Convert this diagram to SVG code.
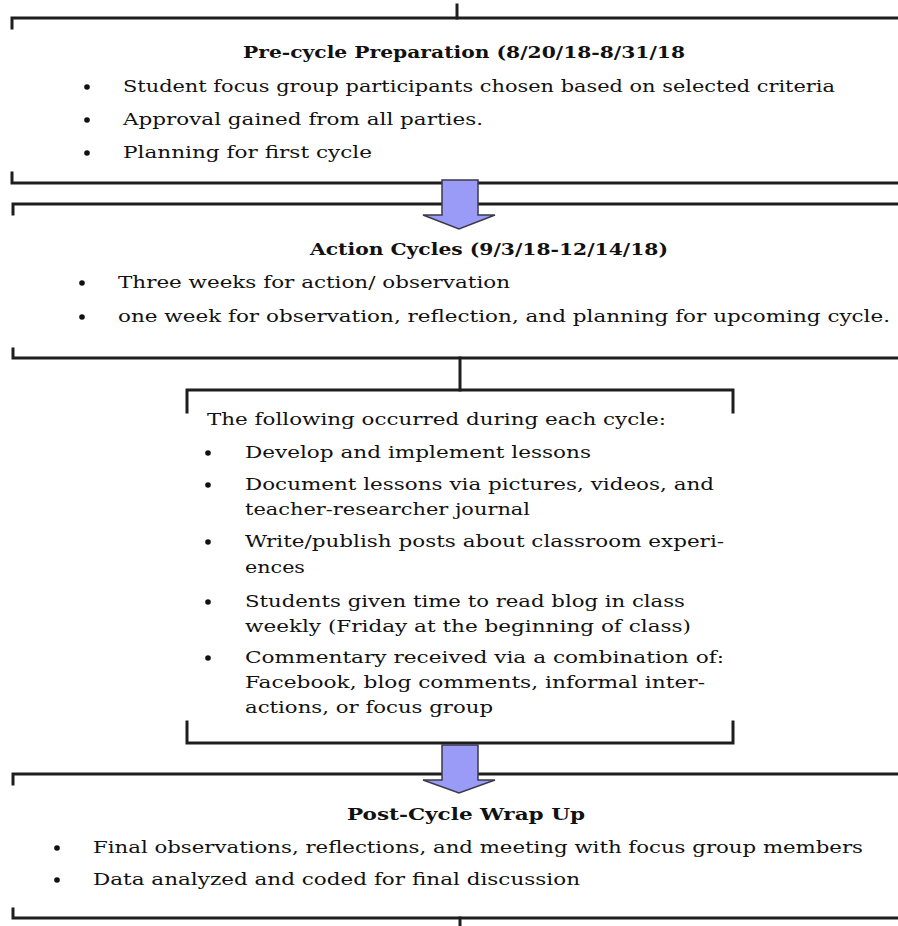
<svg xmlns="http://www.w3.org/2000/svg" width="898" height="926" viewBox="0 0 898 926">
<style>
.ln{fill:none;stroke:#1e1e1e;stroke-width:3;stroke-linecap:square}
.t{font-family:"DejaVu Serif","Liberation Serif",serif;font-size:17px;fill:#111}
.b{font-family:"DejaVu Serif","Liberation Serif",serif;font-size:17px;font-weight:bold;fill:#111}
.dot{fill:#111}
.arr{fill:#9a9af7;stroke:#3a3a4a;stroke-width:1.5}
</style>
<rect width="898" height="926" fill="#fff"/>
<g id="pre-cycle">
<path class="ln" d="M12 28 V18 H898"/>
<path class="ln" d="M12 173 V183 H898"/>
<text class="b" x="243" y="58" textLength="442" lengthAdjust="spacingAndGlyphs">Pre-cycle Preparation (8/20/18-8/31/18</text>
<circle class="dot" cx="87" cy="87" r="2.8"/>
<circle class="dot" cx="87" cy="120" r="2.8"/>
<circle class="dot" cx="87" cy="153" r="2.8"/>
<text class="t" x="123" y="92" textLength="712" lengthAdjust="spacingAndGlyphs">Student focus group participants chosen based on selected criteria</text>
<text class="t" x="123" y="125" textLength="360" lengthAdjust="spacingAndGlyphs">Approval gained from all parties.</text>
<text class="t" x="123" y="158" textLength="249" lengthAdjust="spacingAndGlyphs">Planning for first cycle</text>
</g>
<g id="action-cycles">
<path class="ln" d="M13 214 V204 H898"/>
<path class="ln" d="M13 349 V358 H898"/>
<text class="b" x="310" y="255" textLength="358" lengthAdjust="spacingAndGlyphs">Action Cycles (9/3/18-12/14/18)</text>
<circle class="dot" cx="82" cy="283" r="2.8"/>
<circle class="dot" cx="82" cy="317" r="2.8"/>
<text class="t" x="118" y="288" textLength="392" lengthAdjust="spacingAndGlyphs">Three weeks for action/ observation</text>
<text class="t" x="118" y="322" textLength="772" lengthAdjust="spacingAndGlyphs">one week for observation, reflection, and planning for upcoming cycle.</text>
</g>
<g id="each-cycle">
<path class="ln" d="M187 412 V390 H733 V412"/>
<path class="ln" d="M187 722 V743 H733 V722"/>
<text class="t" x="207" y="425" textLength="459" lengthAdjust="spacingAndGlyphs">The following occurred during each cycle:</text>
<circle class="dot" cx="208" cy="453" r="2.8"/>
<circle class="dot" cx="208" cy="485" r="2.8"/>
<circle class="dot" cx="208" cy="542" r="2.8"/>
<circle class="dot" cx="208" cy="602" r="2.8"/>
<circle class="dot" cx="208" cy="658" r="2.8"/>
<text class="t" x="245" y="458" textLength="346" lengthAdjust="spacingAndGlyphs">Develop and implement lessons</text>
<text class="t" x="245" y="490" textLength="469" lengthAdjust="spacingAndGlyphs">Document lessons via pictures, videos, and</text>
<text class="t" x="245" y="515" textLength="285" lengthAdjust="spacingAndGlyphs">teacher-researcher journal</text>
<text class="t" x="245" y="547" textLength="479" lengthAdjust="spacingAndGlyphs">Write/publish posts about classroom experi-</text>
<text class="t" x="245" y="573" textLength="60" lengthAdjust="spacingAndGlyphs">ences</text>
<text class="t" x="245" y="607" textLength="440" lengthAdjust="spacingAndGlyphs">Students given time to read blog in class</text>
<text class="t" x="245" y="632" textLength="446" lengthAdjust="spacingAndGlyphs">weekly (Friday at the beginning of class)</text>
<text class="t" x="245" y="663" textLength="479" lengthAdjust="spacingAndGlyphs">Commentary received via a combination of:</text>
<text class="t" x="245" y="688" textLength="460" lengthAdjust="spacingAndGlyphs">Facebook, blog comments, informal inter-</text>
<text class="t" x="245" y="713" textLength="248" lengthAdjust="spacingAndGlyphs">actions, or focus group</text>
</g>
<g id="post-cycle">
<path class="ln" d="M13 784 V774 H898"/>
<path class="ln" d="M13 909 V918 H898"/>
<text class="b" x="347" y="820" textLength="238" lengthAdjust="spacingAndGlyphs">Post-Cycle Wrap Up</text>
<circle class="dot" cx="57" cy="848" r="2.8"/>
<circle class="dot" cx="57" cy="880" r="2.8"/>
<text class="t" x="93" y="853" textLength="770" lengthAdjust="spacingAndGlyphs">Final observations, reflections, and meeting with focus group members</text>
<text class="t" x="93" y="885" textLength="487" lengthAdjust="spacingAndGlyphs">Data analyzed and coded for final discussion</text>
</g>
<g id="connectors">
<path class="ln" d="M457 5 V18"/>
<path class="ln" d="M460 358 V390"/>
<path class="ln" d="M460 918 V926"/>
<path class="arr" d="M442 180 H478 V215 H495 L459 229 L423 215 H442 Z"/>
<path class="arr" d="M442 745 H478 V780 H495 L459 793 L423 780 H442 Z"/>
</g>
</svg>
